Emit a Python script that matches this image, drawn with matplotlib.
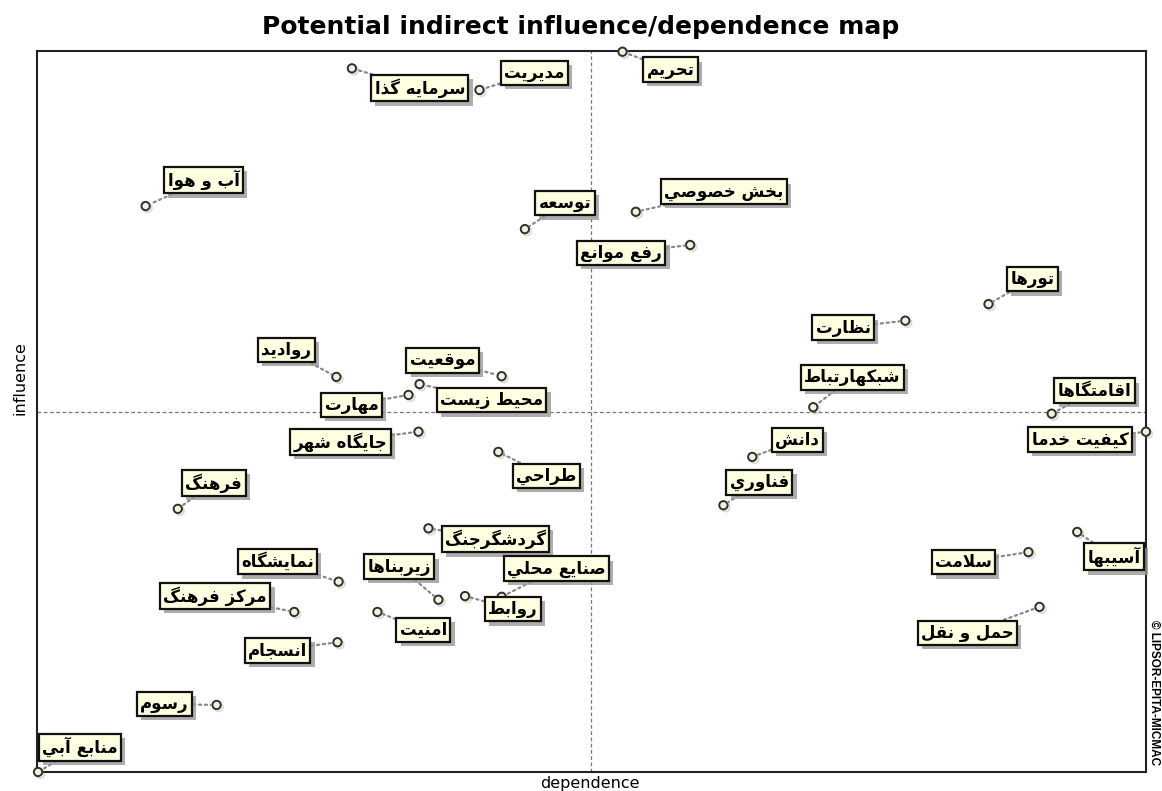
import matplotlib
matplotlib.use("Agg")
import matplotlib.pyplot as plt
import matplotlib.patheffects as pe

# variables (logical Persian text), dependence (x) and influence (y)
names = ["تحریم", "مدیریت", "سرمایه گذا", "آب و هوا", "توسعه", "بخش خصوصي",
         "رفع موانع", "تورها", "نظارت", "شبکهارتباط", "اقامتگاها", "کیفیت خدما",
         "دانش", "فناوري", "آسیبها", "سلامت", "حمل و نقل", "روادید", "موقعیت",
         "محیط زیست", "مهارت", "جایگاه شهر", "طراحي", "فرهنگ", "گردشگرجنگ",
         "نمایشگاه", "زیربناها", "صنایع محلي", "روابط", "مرکز فرهنگ", "امنیت",
         "انسجام", "رسوم", "منابع آبي"]
dependence = [52.8, 39.9, 28.4, 9.8, 44.0, 54.0, 58.9, 85.8, 78.3, 70.0, 91.5, 100.0,
              64.5, 61.9, 93.8, 89.4, 90.4, 27.0, 41.9, 34.5, 33.5, 34.4, 41.6, 12.7,
              35.3, 27.2, 36.2, 41.9, 38.6, 23.2, 30.7, 27.1, 16.2, 0.1]
influence = [99.9, 94.6, 97.6, 78.5, 75.3, 77.7, 73.1, 64.9, 62.6, 50.6, 49.7, 47.2,
             43.7, 37.0, 33.3, 30.5, 22.9, 54.8, 54.9, 53.8, 52.3, 47.2, 44.4, 36.5,
             33.8, 26.4, 23.9, 24.3, 24.4, 22.2, 22.2, 18.0, 9.3, 0.0]
mean_dep = 50.0
mean_inf = 50.0

# label offsets in pixels (layout only)
offsets = [(48, -18), (55, 17), (68, -20), (58, 26), (40, 26), (88, 20),
           (-69, -8), (44, 25), (-62, -7), (39, 30), (43, 23), (-66, -8),
           (45, 17), (36, 23), (37, -25), (-65, -10), (-72, -26), (-50, 27),
           (-59, 16), (72, -16), (-57, -10), (-78, -10), (48, -24), (36, 26),
           (67, -11), (-61, 20), (-39, 33), (55, 28), (48, -13), (-79, 16),
           (46, -18), (-60, -8), (-52, 1), (42, 25)]

# simple Arabic/Persian shaping: (isolated, final, initial, medial)
FORMS = {
    "ا": (0xFE8D, 0xFE8E, None, None), "آ": (0xFE81, 0xFE82, None, None),
    "ب": (0xFE8F, 0xFE90, 0xFE91, 0xFE92), "ة": (0xFE93, 0xFE94, None, None),
    "ت": (0xFE95, 0xFE96, 0xFE97, 0xFE98), "ث": (0xFE99, 0xFE9A, 0xFE9B, 0xFE9C),
    "ج": (0xFE9D, 0xFE9E, 0xFE9F, 0xFEA0), "ح": (0xFEA1, 0xFEA2, 0xFEA3, 0xFEA4),
    "خ": (0xFEA5, 0xFEA6, 0xFEA7, 0xFEA8), "د": (0xFEA9, 0xFEAA, None, None),
    "ذ": (0xFEAB, 0xFEAC, None, None), "ر": (0xFEAD, 0xFEAE, None, None),
    "ز": (0xFEAF, 0xFEB0, None, None), "س": (0xFEB1, 0xFEB2, 0xFEB3, 0xFEB4),
    "ش": (0xFEB5, 0xFEB6, 0xFEB7, 0xFEB8), "ص": (0xFEB9, 0xFEBA, 0xFEBB, 0xFEBC),
    "ض": (0xFEBD, 0xFEBE, 0xFEBF, 0xFEC0), "ط": (0xFEC1, 0xFEC2, 0xFEC3, 0xFEC4),
    "ظ": (0xFEC5, 0xFEC6, 0xFEC7, 0xFEC8), "ع": (0xFEC9, 0xFECA, 0xFECB, 0xFECC),
    "غ": (0xFECD, 0xFECE, 0xFECF, 0xFED0), "ف": (0xFED1, 0xFED2, 0xFED3, 0xFED4),
    "ق": (0xFED5, 0xFED6, 0xFED7, 0xFED8), "ك": (0xFED9, 0xFEDA, 0xFEDB, 0xFEDC),
    "ل": (0xFEDD, 0xFEDE, 0xFEDF, 0xFEE0), "م": (0xFEE1, 0xFEE2, 0xFEE3, 0xFEE4),
    "ن": (0xFEE5, 0xFEE6, 0xFEE7, 0xFEE8), "ه": (0xFEE9, 0xFEEA, 0xFEEB, 0xFEEC),
    "و": (0xFEED, 0xFEEE, None, None), "ي": (0xFEF1, 0xFEF2, 0xFEF3, 0xFEF4),
    "پ": (0xFB56, 0xFB57, 0xFB58, 0xFB59), "چ": (0xFB7A, 0xFB7B, 0xFB7C, 0xFB7D),
    "ژ": (0xFB8A, 0xFB8B, None, None), "ک": (0xFB8E, 0xFB8F, 0xFB90, 0xFB91),
    "گ": (0xFB92, 0xFB93, 0xFB94, 0xFB95), "ی": (0xFBFC, 0xFBFD, 0xFBFE, 0xFBFF),
}


def shape(text):
    # lam-alef ligature
    chars = []
    i = 0
    while i < len(text):
        if text[i] == "ل" and i + 1 < len(text) and text[i + 1] in "اآ":
            chars.append("LA" if text[i + 1] == "ا" else "LAA")
            i += 2
        else:
            chars.append(text[i])
            i += 1

    def dual(c):
        return c in FORMS and FORMS[c][2] is not None

    def letter(c):
        return c in FORMS or c in ("LA", "LAA")

    out = []
    for k, c in enumerate(chars):
        prev = chars[k - 1] if k > 0 else None
        nxt = chars[k + 1] if k + 1 < len(chars) else None
        jp = prev is not None and dual(prev)
        if c in ("LA", "LAA"):
            base = 0xFEFB if c == "LA" else 0xFEF5
            out.append(chr(base + 1 if jp else base))
            continue
        if c not in FORMS:
            out.append(c)
            continue
        jn = dual(c) and nxt is not None and letter(nxt)
        iso, fin, ini, med = FORMS[c]
        if jp and jn:
            code = med
        elif jp:
            code = fin
        elif jn:
            code = ini
        else:
            code = iso
        out.append(chr(code))
    return "".join(reversed(out))


fig = plt.figure(figsize=(11.62, 7.91), dpi=100)
ax = fig.add_axes([0.0318, 0.024, 0.9544, 0.9115])
ax.set_xlim(0, 100)
ax.set_ylim(0, 100)
ax.set_xticks([])
ax.set_yticks([])
for s in ax.spines.values():
    s.set_linewidth(1.5)
    s.set_color("#222222")

ax.axvline(mean_dep, color="#777777", ls=(0, (3, 2)), lw=0.9)
ax.axhline(mean_inf, color="#777777", ls=(0, (3, 2)), lw=0.9)

shadow = [pe.SimplePatchShadow(offset=(3, -3), shadow_rgbFace="#999999", alpha=0.8), pe.Normal()]

for name, x, y, off in zip(names, dependence, influence, offsets):
    ax.plot(x, y, "o", ms=6, mfc="#f2f2dc", mec="#303030", mew=1.4, clip_on=False, zorder=4,
            path_effects=[pe.SimpleLineShadow(offset=(1.5, -1.5), shadow_color="#888888"), pe.Normal()])
    t = ax.annotate(shape(name), (x, y), xytext=off, textcoords="offset pixels",
                    ha="center", va="center", fontsize=12, fontweight="bold",
                    family="DejaVu Sans", annotation_clip=False, zorder=5,
                    bbox=dict(boxstyle="square,pad=0.2", fc="#ffffe2", ec="#111111", lw=1.6),
                    arrowprops=dict(arrowstyle="-", color="#888888", ls=":", lw=1.6,
                                    shrinkA=0, shrinkB=4))
    t.get_bbox_patch().set_path_effects(shadow)

fig.text(0.5, 0.966, "Potential indirect influence/dependence map", ha="center", va="center",
         fontsize=18, fontweight="bold", family="DejaVu Sans")
fig.text(0.508, 0.009, "dependence", ha="center", va="center", fontsize=11.5, family="DejaVu Sans")
fig.text(0.017, 0.522, "influence", ha="center", va="center", rotation=90, fontsize=11.5,
         family="DejaVu Sans")
fig.text(0.9935, 0.125, "© LIPSOR-EPITA-MICMAC", ha="center", va="center", rotation=-90,
         fontsize=8.5, fontweight="bold", family="Liberation Sans")

fig.savefig("out.png", dpi=100)
